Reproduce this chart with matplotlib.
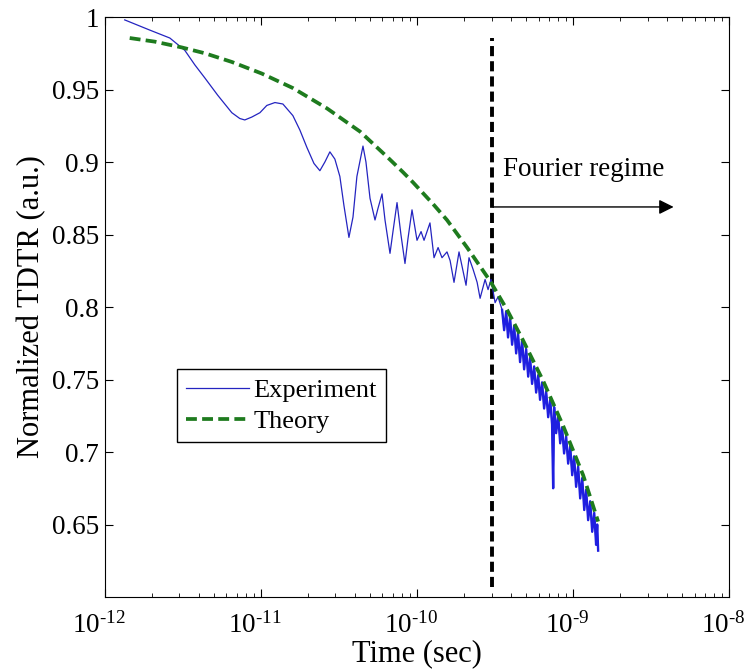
import numpy as np
import matplotlib
matplotlib.use("Agg")
import matplotlib.pyplot as plt
import matplotlib.transforms as mtransforms

plt.rcParams['font.family'] = ['Liberation Serif', 'DejaVu Serif']
plt.rcParams['mathtext.fontset'] = 'custom'
plt.rcParams['mathtext.rm'] = 'Liberation Serif'
plt.rcParams['mathtext.it'] = 'Liberation Serif:italic'

# experiment trace (log10 of time in sec, normalized signal)
exp_log_t = [-11.872, -11.712, -11.583, -11.532, -11.487, -11.423, -11.359, -11.276,
             -11.186, -11.135, -11.103, -11.058, -11.006, -10.962, -10.910, -10.859,
             -10.795, -10.750, -10.705, -10.660, -10.622, -10.590, -10.558, -10.526,
             -10.494, -10.468, -10.436, -10.410, -10.385, -10.346, -10.327, -10.301,
             -10.269, -10.250, -10.224, -10.205, -10.173, -10.154, -10.128, -10.103,
             -10.077, -10.058, -10.032, -10.000, -9.974, -9.955, -9.917, -9.891,
             -9.865, -9.840, -9.808, -9.788, -9.763, -9.731, -9.686, -9.667,
             -9.641, -9.615, -9.596, -9.564, -9.545, -9.526, -9.500, -9.481,
             -9.455, -9.442, -9.429, -9.417, -9.404, -9.391, -9.378, -9.365, -9.353,
             -9.340, -9.327, -9.314, -9.301, -9.288, -9.276, -9.263, -9.250, -9.237,
             -9.224, -9.212, -9.199, -9.186, -9.173, -9.160, -9.147, -9.135, -9.128,
             -9.122, -9.109, -9.096, -9.083, -9.071, -9.058, -9.045, -9.032, -9.019,
             -9.006, -8.994, -8.981, -8.968, -8.955, -8.942, -8.929, -8.917, -8.904,
             -8.891, -8.878, -8.865, -8.853, -8.846, -8.840]
exp_val = [0.998, 0.991, 0.9855, 0.981, 0.977, 0.967, 0.958, 0.946,
           0.934, 0.930, 0.929, 0.931, 0.934, 0.939, 0.941, 0.940,
           0.932, 0.922, 0.910, 0.899, 0.894, 0.900, 0.907, 0.902,
           0.890, 0.870, 0.848, 0.862, 0.890, 0.911, 0.900, 0.875,
           0.860, 0.868, 0.878, 0.860, 0.837, 0.852, 0.872, 0.850,
           0.830, 0.847, 0.867, 0.846, 0.852, 0.846, 0.858, 0.834,
           0.841, 0.834, 0.838, 0.832, 0.817, 0.838, 0.815, 0.834,
           0.826, 0.817, 0.806, 0.819, 0.812, 0.819, 0.803, 0.807,
           0.798, 0.784, 0.797, 0.779, 0.793, 0.774, 0.787, 0.768, 0.782,
           0.762, 0.777, 0.757, 0.771, 0.752, 0.765, 0.747, 0.759, 0.741,
           0.753, 0.736, 0.748, 0.730, 0.742, 0.724, 0.736, 0.719, 0.675,
           0.731, 0.713, 0.725, 0.706, 0.717, 0.699, 0.711, 0.692, 0.704,
           0.684, 0.697, 0.676, 0.690, 0.668, 0.682, 0.660, 0.674, 0.653,
           0.666, 0.645, 0.658, 0.636, 0.650, 0.632]
dense_start = 64  # index where the trace turns into a dense noisy band

# theory curve
theory_log_t = [-11.840, -11.679, -11.506, -11.359, -11.186, -10.994, -10.795, -10.577,
                -10.365, -10.186, -10.090, -10.026, -9.897, -9.808, -9.679, -9.532,
                -9.423, -9.321, -9.192, -9.064, -8.936, -8.840]
theory_val = [0.9855, 0.983, 0.979, 0.975, 0.969, 0.961, 0.951, 0.937,
              0.921, 0.903, 0.893, 0.886, 0.871, 0.860, 0.841, 0.818,
              0.798, 0.777, 0.749, 0.718, 0.684, 0.652]

fourier_t = 3e-10
y_ticks = [0.65, 0.7, 0.75, 0.8, 0.85, 0.9, 0.95, 1.0]
y_labels = ['0.65', '0.7', '0.75', '0.8', '0.85', '0.9', '0.95', '1']
x_ticks = [1e-12, 1e-11, 1e-10, 1e-9, 1e-8]
x_labels = [r'$10^{\text{-12}}$', r'$10^{\text{-11}}$', r'$10^{\text{-10}}$',
            r'$10^{\text{-9}}$', r'$10^{\text{-8}}$']

fig = plt.figure(figsize=(7.48, 6.72), dpi=100)
ax = fig.add_axes([0.140, 0.1116, 0.835, 0.8631])

t_exp = 10.0 ** np.array(exp_log_t)
ax.plot([fourier_t, fourier_t], [0.607, 0.9855], color='black', lw=2.8,
        dashes=(2.6, 1.3), zorder=1)
ax.plot(t_exp, exp_val, color='#2424c0', lw=0.9, label='Experiment', zorder=2)
ax.plot(t_exp[dense_start:], exp_val[dense_start:], color='#1f1fe0', lw=1.7, zorder=2)
ax.plot(10.0 ** np.array(theory_log_t), theory_val, color='#1e7b1e', lw=2.7,
        dashes=(2.9, 1.4), label='Theory', zorder=3)

ax.annotate('', xy=(4.4e-9, 0.869), xytext=(3.07e-10, 0.869),
            arrowprops=dict(arrowstyle='-|>', color='black', lw=1,
                            mutation_scale=22, shrinkA=0, shrinkB=0))
ax.text(3.55e-10, 0.895, 'Fourier regime', fontsize=19.5, va='center', ha='left')

ax.set_xscale('log')
ax.set_xlim(1e-12, 1e-8)
ax.set_ylim(0.6, 1.0)
ax.set_xticks(x_ticks)
ax.set_xticklabels(x_labels)
ax.set_yticks(y_ticks)
ax.set_yticklabels(y_labels)
ax.tick_params(which='both', direction='in', top=True, right=True, labelsize=19.5)
ax.tick_params(which='major', length=6)
ax.tick_params(which='minor', length=3)
ax.tick_params(axis='x', pad=11)
ax.tick_params(axis='y', pad=4)

# matlab puts the "10" just left of the tick, nudge the labels a little
shift = mtransforms.ScaledTranslation(-6 / 100, 0, fig.dpi_scale_trans)
for lbl in ax.get_xticklabels():
    lbl.set_transform(lbl.get_transform() + shift)

ax.set_xlabel('Time (sec)', fontsize=22, labelpad=0)
ax.set_ylabel('Normalized TDTR (a.u.)', fontsize=22, labelpad=4)

leg = ax.legend(loc='upper left', bbox_to_anchor=(0.115, 0.393), fontsize=19,
                fancybox=False, edgecolor='black', framealpha=1,
                handlelength=2.4, handletextpad=0.15, borderpad=0.35,
                labelspacing=0.3, borderaxespad=0)
leg.get_frame().set_linewidth(1)

fig.savefig('out.png', dpi=100)
